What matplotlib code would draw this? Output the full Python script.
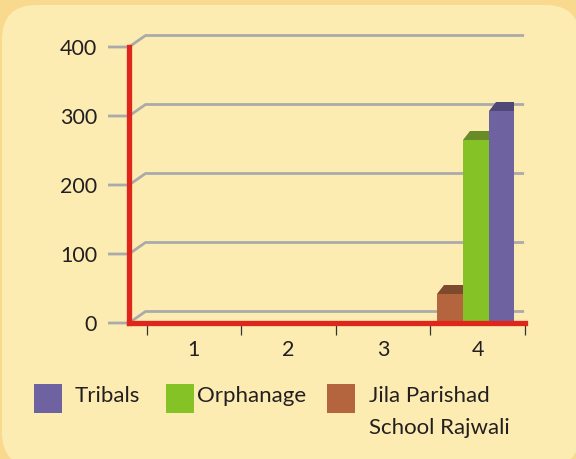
import matplotlib
matplotlib.use("Agg")
import matplotlib.pyplot as plt
from matplotlib.patches import Rectangle, Polygon, FancyBboxPatch

# ---- data ----
categories = ["1", "2", "3", "4"]
series_names = ["Tribals", "Orphanage", "Jila Parishad\nSchool Rajwali"]
series_colors = ["#6E62A0", "#85C226", "#B5653D"]
series_top_colors = ["#524878", "#688A27", "#7D4A2D"]
# values per category (only category 4 has data)
tribals = [0, 0, 0, 307]
orphanage = [0, 0, 0, 265]
jila = [0, 0, 0, 42]
yticks = [0, 100, 200, 300, 400]

W, H = 576, 459
fig = plt.figure(figsize=(W / 100, H / 100), dpi=100)
fig.patch.set_facecolor("#F9D98D")
panel = FancyBboxPatch((2 / W, -8 / H), 578 / W, 462 / H,
                       boxstyle="round,pad=0,rounding_size=0.06",
                       transform=fig.transFigure, facecolor="#FDECB2",
                       edgecolor="none", zorder=-5, mutation_aspect=W / H)
fig.patches.append(panel)

FONT = "Lato"
TXT = "#231F20"
RED = "#E0251B"
GRID = "#AAAAAA"

# axes: x px 129..525, y px 323..47
ax = fig.add_axes([129 / W, (H - 323) / H, (525 - 129) / W, 276 / H])
ax.set_facecolor("none")
pxu = 94.8  # px per category
xl = (129 - 146.7) / pxu + 0.5
xr = (525 - 146.7) / pxu + 0.5
ax.set_xlim(xl, xr)
ax.set_ylim(0, 400)

ypx = 276 / 400.0
# gridlines with perspective
gdx = 16.5 / pxu
gdy = 11.5 / ypx
stub = (108 - 146.7) / pxu + 0.5
for v in yticks:
    ax.plot([stub, xl, xl + gdx, xr], [v, v, v + gdy, v + gdy],
            color=GRID, lw=2.0, solid_capstyle="butt", clip_on=False, zorder=1)

# bars (3D-ish)
bw = 25.7 / pxu
tdx = 7.0 / pxu
tdy = 9.3 / ypx
order = [(jila, 2, -1), (orphanage, 1, 0), (tribals, 0, 1)]
xs = range(1, len(categories) + 1)
for vals, si, off in order:
    pos = [x + off * bw - 0.02 for x in xs]
    bars = ax.bar(pos, vals, width=bw, color=series_colors[si], zorder=2,
                  linewidth=0)
    for b, v in zip(bars, vals):
        if v <= 0:
            continue
        xa = b.get_x()
        xb = xa + b.get_width()
        ax.add_patch(Polygon([(xa, v), (xb, v), (xb, v + tdy), (xa + tdx, v + tdy)],
                             closed=True, facecolor=series_top_colors[si],
                             edgecolor="none", zorder=2, clip_on=False))

# spines
for s in ["top", "right"]:
    ax.spines[s].set_visible(False)
for s in ["left", "bottom"]:
    ax.spines[s].set_color(RED)
    ax.spines[s].set_linewidth(3.8)
    ax.spines[s].set_zorder(3)
    ax.spines[s].set_capstyle("projecting")

# ticks
ax.set_yticks(yticks)
ax.set_yticklabels([str(v) for v in yticks], fontsize=15.5, family=FONT, color=TXT)
ax.tick_params(axis="y", length=0, pad=23)
ax.set_xticks(list(xs))
ax.set_xticklabels(categories, fontsize=15.5, family=FONT, color=TXT)
ax.tick_params(axis="x", which="major", length=0, pad=12)
ax.set_xticks([x + 0.5 for x in range(0, len(categories) + 1)], minor=True)
ax.tick_params(axis="x", which="minor", length=8.5, width=0.9, color="#333333",
               direction="out", pad=0)

# legend (manual)
leg_sq_x = [34, 166, 327]
leg_tx_x = [75, 197, 369]
for i in range(len(series_names)):
    fig.patches.append(Rectangle((leg_sq_x[i] / W, (H - 413) / H), 27.5 / W, 29 / H,
                                 transform=fig.transFigure,
                                 facecolor=series_colors[i], edgecolor="none"))
    for j, line in enumerate(series_names[i].split("\n")):
        fig.text(leg_tx_x[i] / W, (H - 402.5 - 31.5 * j) / H, line, fontsize=16,
                 family=FONT, color=TXT, ha="left", va="baseline")

fig.savefig("out.png", dpi=100, facecolor=fig.get_facecolor())
